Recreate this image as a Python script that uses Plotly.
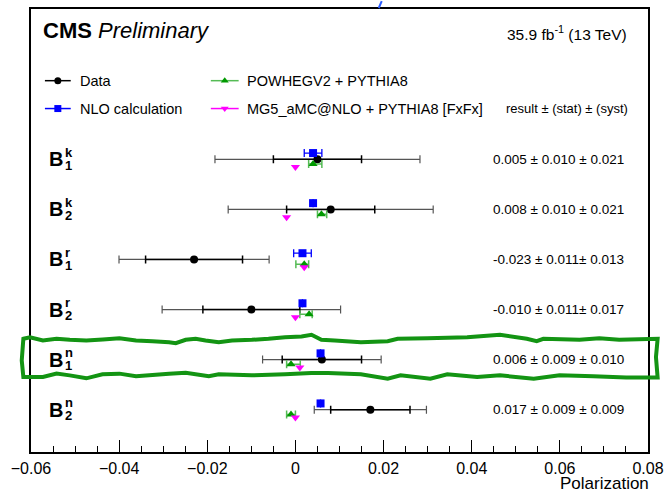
import numpy as np
import plotly.graph_objects as go

# ---------------- data ----------------
row_sym = ["k", "k", "r", "r", "n", "n"]
row_idx = ["1", "2", "1", "2", "1", "2"]

data_val = [0.005, 0.008, -0.023, -0.010, 0.006, 0.017]
data_stat = [0.010, 0.010, 0.011, 0.011, 0.009, 0.009]
data_syst = [0.021, 0.021, 0.013, 0.017, 0.010, 0.009]
val_text = ["0.005 ± 0.010 ± 0.021", "0.008 ± 0.010 ± 0.021", "-0.023 ± 0.011± 0.013",
            "-0.010 ± 0.011± 0.017", "0.006 ± 0.009 ± 0.010", "0.017 ± 0.009 ± 0.009"]

nlo_val = [0.0040, 0.0040, 0.0016, 0.0016, 0.0057, 0.0057]
nlo_err = [0.0020, 0.0, 0.0020, 0.0, 0.0, 0.0]

pw_val = [0.0040, 0.0059, 0.0020, 0.0031, -0.0010, -0.0010]
pw_err_minus = [0.0010, 0.0009, 0.0019, 0.0021, 0.0010, 0.0010]
pw_err_plus = [0.0020, 0.0012, 0.0010, 0.0007, 0.0021, 0.0010]

mg_val = [0.0, -0.002, 0.002, 0.0, 0.001, 0.0]

x_ticks = [-0.06, -0.04, -0.02, 0.0, 0.02, 0.04, 0.06, 0.08]

# ---------------- layout geometry ----------------
W, H = 671, 494
PL, PR, PT, PB = 31, 652, 7, 452
ROW0, ROWSTEP = 158, 50.3


def fx(px):
    return (px - PL) / (PR - PL)


def fy(py):
    return (PB - py) / (PB - PT)


n = len(data_val)
rows = [6 - i for i in range(n)]
y_bot = 6 - (PB - ROW0) / ROWSTEP
y_top = 6 + (ROW0 - PT) / ROWSTEP
OFF_NLO, OFF_PW, OFF_MG = 0.125, -0.095, -0.155

total = list(np.sqrt(np.array(data_stat) ** 2 + np.array(data_syst) ** 2))

GREEN = "#009900"
GREEN_L = "#55bb55"
BLUE = "#0000ff"
MAG = "#ff00ff"
FONT = "Liberation Sans, Arial, sans-serif"

fig = go.Figure()

# data: total error
fig.add_trace(go.Scatter(x=data_val, y=rows, mode="markers",
                         marker=dict(size=1, color="rgba(0,0,0,0)"),
                         error_x=dict(type="data", array=total, color="#555555",
                                      thickness=1.2, width=4),
                         hoverinfo="skip"))
# data: stat error + point
fig.add_trace(go.Scatter(x=data_val, y=rows, mode="markers",
                         marker=dict(size=8, color="black", symbol="circle"),
                         error_x=dict(type="data", array=data_stat, color="black",
                                      thickness=1.5, width=4)))
# NLO
fig.add_trace(go.Scatter(x=nlo_val, y=[r + OFF_NLO for r in rows], mode="markers",
                         marker=dict(size=8, color=BLUE, symbol="square"),
                         error_x=dict(type="data", array=nlo_err, color=BLUE,
                                      thickness=1.3, width=4)))
# POWHEG
fig.add_trace(go.Scatter(x=pw_val, y=[r + OFF_PW for r in rows], mode="markers",
                         marker=dict(size=8, color=GREEN, symbol="triangle-up"),
                         error_x=dict(type="data", symmetric=False, array=pw_err_plus,
                                      arrayminus=pw_err_minus, color=GREEN_L,
                                      thickness=1.5, width=4)))
# MG5
fig.add_trace(go.Scatter(x=mg_val, y=[r + OFF_MG for r in rows], mode="markers",
                         marker=dict(size=8, color=MAG, symbol="triangle-down")))

# legend glyphs (overlay axes in plot-fraction units)
leg = [
    (45, 71, 79, "black", "black", "circle", 7),
    (45, 71, 107, BLUE, BLUE, "square", 7),
    (212, 240, 79, GREEN_L, GREEN, "triangle-up", 7),
    (212, 240, 107, MAG, MAG, "triangle-down", 7),
]
for x0, x1, yy, lc, mc, sym, ms in leg:
    fig.add_trace(go.Scatter(x=[fx(x0), fx(x1)], y=[fy(yy)] * 2, mode="lines",
                             line=dict(color=lc, width=1.5), xaxis="x2", yaxis="y2",
                             hoverinfo="skip"))
    fig.add_trace(go.Scatter(x=[fx((x0 + x1) / 2)], y=[fy(yy)], mode="markers",
                             marker=dict(color=mc, symbol=sym, size=ms), xaxis="x2",
                             yaxis="y2", hoverinfo="skip"))

ann = []
ann.append(dict(x=fx(41), y=fy(29), xref="paper", yref="paper", xanchor="left", yanchor="middle",
                text="<b>CMS</b> <i>Preliminary</i>", showarrow=False,
                font=dict(family=FONT, size=22, color="black")))
ann.append(dict(x=fx(633), y=fy(31), xref="paper", yref="paper", xanchor="right", yanchor="middle",
                text="35.9 fb<sup>-1</sup> (13 TeV)", showarrow=False,
                font=dict(family=FONT, size=15.5, color="black")))
for txt, xx, yy in [("Data", 78, 79), ("NLO calculation", 78, 107),
                    ("POWHEGV2 + PYTHIA8", 246, 79),
                    ("MG5_aMC@NLO + PYTHIA8 [FxFx]", 246, 107)]:
    ann.append(dict(x=fx(xx), y=fy(yy), xref="paper", yref="paper", xanchor="left",
                    yanchor="middle", text=txt, showarrow=False,
                    font=dict(family=FONT, size=14.5, color="black")))
ann.append(dict(x=fx(634), y=fy(107), xref="paper", yref="paper", xanchor="right", yanchor="middle",
                text="result ± (stat) ± (syst)", showarrow=False,
                font=dict(family=FONT, size=13, color="black")))

for i in range(n):
    ann.append(dict(x=fx(47), y=rows[i], xref="paper", yref="y", xanchor="left", yanchor="middle",
                    text="<b>B</b>", showarrow=False, font=dict(family=FONT, size=20, color="black")))
    ann.append(dict(x=fx(63), y=rows[i], xref="paper", yref="y", xanchor="left", yanchor="middle",
                    yshift=7, text="<b>%s</b>" % row_sym[i], showarrow=False,
                    font=dict(family=FONT, size=13, color="black")))
    ann.append(dict(x=fx(63), y=rows[i], xref="paper", yref="y", xanchor="left", yanchor="middle",
                    yshift=-6, text="<b>%s</b>" % row_idx[i], showarrow=False,
                    font=dict(family=FONT, size=13, color="black")))
    ann.append(dict(x=fx(494), y=rows[i], xref="paper", yref="y", xanchor="left", yanchor="middle",
                    text=val_text[i], showarrow=False,
                    font=dict(family=FONT, size=13.5, color="black")))

ann.append(dict(x=fx(655), y=fy(484), xref="paper", yref="paper", xanchor="right", yanchor="middle",
                text="Polarization", showarrow=False, font=dict(family=FONT, size=17, color="black")))

# hand-drawn green outline around B1n row (pixel path)
wavy = [(23.3, 338.3), (30, 336.7), (43, 340), (56.7, 338.3), (70, 339.3), (86.7, 340), (103.3, 339),
        (120, 337.7), (136.7, 340), (153.3, 340.7), (170, 341.7), (176.7, 342.7), (186.7, 339.3),
        (196.7, 338.3), (206.7, 340), (220, 341.7), (233.3, 340), (253.3, 339.3), (270, 338.3),
        (286.7, 336.7), (303.3, 336), (313.3, 334.3), (323.3, 339.3), (336.7, 340), (363, 341.7),
        (390, 340.7), (400, 338.3), (430, 337.7), (470, 336.7), (503, 334.3), (530, 338.3),
        (540, 340.7), (546.7, 338.3), (583, 339.3), (603, 337.7), (623, 339.3), (661.7, 338.3),
        (660, 356.7), (661.7, 377.3), (630, 377.3), (597, 376), (563, 375), (537, 378.3), (503, 375),
        (480, 376.7), (450, 374), (433, 378.3), (403, 375), (390, 378.3), (363, 374), (330, 372.7),
        (313, 372.7), (286.7, 374), (253, 375), (220, 374), (210, 376), (186.7, 372.3), (170, 373.3),
        (136.7, 376), (120, 373.3), (103, 374), (86.7, 378), (70, 375), (56.7, 373.3), (43, 376.7),
        (23.3, 376.7), (21.7, 360)]
path = "M " + " L ".join("%.4f,%.4f" % (fx(a), fy(b)) for a, b in wavy) + " Z"
shapes = [
    dict(type="path", xref="paper", yref="paper", path=path,
         line=dict(color="#139413", width=4), fillcolor="rgba(0,0,0,0)"),
    dict(type="line", xref="paper", yref="paper", x0=fx(381), y0=fy(6), x1=fx(384), y1=fy(-1),
         line=dict(color="#2a5cff", width=2)),
]

fig.update_layout(
    width=W, height=H,
    margin=dict(l=PL, r=W - PR, t=PT, b=H - PB, pad=0),
    paper_bgcolor="white", plot_bgcolor="white",
    showlegend=False,
    font=dict(family=FONT, color="black"),
    xaxis=dict(range=[-0.06, 0.08], tickvals=x_ticks, ticks="inside", ticklen=12, tickwidth=1,
               tickcolor="black", showgrid=False, zeroline=False, showline=True, linewidth=1.5,
               linecolor="black", mirror=True, tickfont=dict(family=FONT, size=16, color="black"),
               minor=dict(dtick=0.005, tick0=-0.06, ticks="inside", ticklen=6, tickcolor="black",
                          showgrid=False),
               ticklabelstandoff=1),
    yaxis=dict(range=[y_bot, y_top], showticklabels=False, ticks="", showgrid=False,
               zeroline=False, showline=True, linewidth=1.5, linecolor="black", mirror=True),
    xaxis2=dict(range=[0, 1], overlaying="x", visible=False, anchor="y2"),
    yaxis2=dict(range=[0, 1], overlaying="y", visible=False, anchor="x2"),
    annotations=ann,
    shapes=shapes,
)

fig.write_html("out.html")
